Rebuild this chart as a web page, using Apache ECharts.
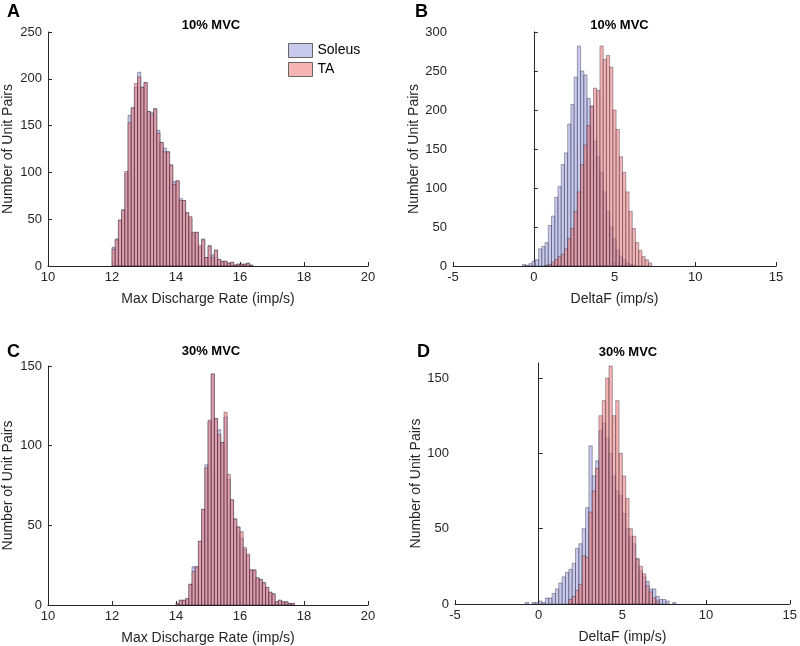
<!DOCTYPE html>
<html><head><meta charset="utf-8">
<script src="https://cdn.jsdelivr.net/npm/echarts@6/dist/echarts.min.js"></script>
<style>html,body{margin:0;padding:0;background:#fff}#c{width:800px;height:646px}</style>
</head><body><div id="c"></div>
<script>
// ---------- DATA ----------
const seriesNames = ['Soleus', 'TA'];
const panelTitles = ['10% MVC', '10% MVC', '30% MVC', '30% MVC'];
const panelLetters = ['A', 'B', 'C', 'D'];
const xLabels = ['Max Discharge Rate (imp/s)', 'DeltaF (imp/s)', 'Max Discharge Rate (imp/s)', 'DeltaF (imp/s)'];
const yLabel = 'Number of Unit Pairs';

// Panel A: max discharge rate, 10% MVC (bin width 0.1 from 12.0)
const aBinStart = 12.0, aBinWidth = 0.1;
const aSoleus = [20, 29, 49, 60, 99, 161, 169, 191, 207, 191, 196, 165, 164, 168, 145, 132, 126, 122, 108, 90, 91, 72, 70, 57, 51, 35, 36, 20, 29, 9, 22, 12, 17, 7, 5, 5, 3, 4, 1, 2, 2, 2, 3, 1];
const aTA     = [18, 28, 49, 60, 101, 153, 169, 195, 202, 191, 196, 165, 162, 168, 142, 132, 122, 122, 108, 87, 91, 70, 70, 57, 53, 36, 36, 22, 28, 9, 21, 9, 17, 7, 5, 5, 3, 4, 1, 2, 2, 2, 3, 1];

// Panel B: DeltaF, 10% MVC (bin width 0.2 from -0.7)
const bBinStart = -0.7, bBinWidth = 0.2;
const bSoleus = [2, 1, 3, 6, 8, 22, 25, 30, 52, 64, 88, 102, 130, 145, 182, 207, 242, 282, 250, 245, 215, 205, 160, 140, 120, 95, 70, 50, 35, 20, 12, 8, 4, 2, 1, 0, 0, 0, 0, 0];
const bTA     = [0, 0, 0, 0, 0, 0, 0, 1, 2, 5, 8, 12, 15, 22, 35, 48, 70, 95, 130, 155, 180, 205, 228, 225, 282, 265, 270, 255, 200, 175, 140, 120, 95, 70, 48, 30, 20, 12, 8, 4];

// Panel C: max discharge rate, 30% MVC (bin width 0.1 from 14.0)
const cBinStart = 14.0, cBinWidth = 0.1;
const cSoleus = [1, 3, 3, 4, 13, 24, 24, 40, 60, 88, 115, 145, 117, 110, 102, 118, 79, 66, 54, 49, 42, 35, 31, 22, 22, 17, 16, 14, 11, 8, 7, 2, 3, 2, 2, 1, 1, 0];
const cTA     = [1, 3, 3, 4, 13, 21, 24, 40, 60, 86, 116, 145, 117, 107, 102, 121, 82, 66, 54, 49, 46, 36, 32, 22, 22, 17, 16, 14, 11, 8, 7, 2, 3, 2, 2, 1, 1, 0];

// Panel D: DeltaF, 30% MVC (bin width 0.2 from -0.8)
const dBinStart = -0.8, dBinWidth = 0.2;
const dSoleus = [1, 0, 1, 1, 2, 1, 4, 4, 7, 10, 14, 18, 21, 23, 27, 37, 40, 50, 64, 105, 85, 95, 115, 120, 110, 100, 85, 75, 72, 60, 50, 45, 40, 30, 22, 18, 15, 10, 10, 5, 3, 3, 2, 0, 1];
const dTA     = [0, 0, 0, 0, 0, 0, 0, 0, 0, 0, 0, 0, 0, 3, 5, 9, 13, 32, 31, 61, 75, 90, 125, 135, 150, 158, 125, 135, 100, 85, 70, 50, 45, 30, 25, 20, 12, 8, 4, 2, 0, 0, 0, 0, 0];

const xTicksA = {min: 10, max: 20, interval: 2};
const xTicksB = {min: -5, max: 15, interval: 5};
const yMax = [250, 300, 150, 160];
const yTickValues = [
  [0, 50, 100, 150, 200, 250],
  [0, 50, 100, 150, 200, 250, 300],
  [0, 50, 100, 150],
  [0, 50, 100, 150]
];

// ---------- STYLE / LAYOUT ----------
const fillColors = {Soleus: 'rgba(165,165,225,0.6)', TA: 'rgba(240,130,130,0.6)'};
const edge = 'rgba(20,20,40,0.6)';
const grids = [
  {left: 44, top: 32, width: 324, height: 234},
  {left: 453, top: 32, width: 323, height: 234},
  {left: 44, top: 366, width: 324, height: 239},
  {left: 455, top: 363, width: 336, height: 241}
];
const titleY = [22, 22, 348, 349];
const axisColor = '#262626';
const font = 'Liberation Sans, Arial, sans-serif';

function toBins(start, width, counts) {
  return counts.map((c, i) => [start + i * width, start + (i + 1) * width, c]);
}
function renderBar(name) {
  return function (params, api) {
    const c = api.value(2);
    if (!c) return null;
    const p0 = api.coord([api.value(0), c]);
    const p1 = api.coord([api.value(1), 0]);
    return {
      type: 'rect',
      shape: {x: p0[0], y: p0[1], width: p1[0] - p0[0], height: p1[1] - p0[1]},
      style: {fill: fillColors[name], stroke: edge, lineWidth: 0.6}
    };
  };
}
const panels = [
  [aBinStart, aBinWidth, aSoleus, aTA],
  [bBinStart, bBinWidth, bSoleus, bTA],
  [cBinStart, cBinWidth, cSoleus, cTA],
  [dBinStart, dBinWidth, dSoleus, dTA]
];
const series = [];
panels.forEach((p, k) => {
  [['Soleus', p[2]], ['TA', p[3]]].forEach(([nm, arr]) => {
    series.push({
      type: 'custom', name: nm, xAxisIndex: k, yAxisIndex: k,
      data: toBins(p[0], p[1], arr),
      encode: {x: [0, 1], y: 2},
      renderItem: renderBar(nm),
      itemStyle: {color: fillColors[nm], borderColor: edge},
      silent: true, animation: false, clip: false
    });
  });
});

const xAxes = grids.map((g, k) => {
  const t = (k % 2 === 0) ? xTicksA : xTicksB;
  return {
    type: 'value', gridIndex: k, min: t.min, max: t.max, interval: t.interval,
    name: xLabels[k], nameLocation: 'middle', nameGap: 26,
    nameTextStyle: {color: axisColor, fontSize: 14, fontFamily: font},
    axisLine: {show: true, onZero: false, lineStyle: {color: axisColor, width: 1}},
    axisTick: {show: true, inside: true, length: 4, lineStyle: {color: axisColor}},
    axisLabel: {color: axisColor, fontSize: 13, fontFamily: font, margin: 5},
    splitLine: {show: false}
  };
});
const yAxes = grids.map((g, k) => ({
  type: 'value', gridIndex: k, min: 0, max: yMax[k], interval: 50,
  name: yLabel, nameLocation: 'middle', nameGap: (k % 2 === 0) ? 33 : 30, nameRotate: 90,
  nameTextStyle: {color: axisColor, fontSize: 14, fontFamily: font},
  axisLine: {show: true, lineStyle: {color: axisColor, width: 1}},
  axisTick: {show: true, inside: true, length: 4, lineStyle: {color: axisColor}, customValues: yTickValues[k]},
  axisLabel: {color: axisColor, fontSize: 13, fontFamily: font, margin: 6, customValues: yTickValues[k]},
  splitLine: {show: false}
}));

const titles = [];
grids.forEach((g, k) => {
  titles.push({text: panelTitles[k], left: g.left + g.width / 2, top: titleY[k] - 8, textAlign: 'center',
    textStyle: {fontSize: 13, fontWeight: 'bold', color: '#000', fontFamily: font}});
});
const letterPos = [[2, -2], [410, -2], [2, 338], [412, 338]];
panelLetters.forEach((L, k) => {
  titles.push({text: L, left: letterPos[k][0], top: letterPos[k][1],
    textStyle: {fontSize: 18, fontWeight: 'bold', color: '#000', fontFamily: font}});
});

const chart = echarts.init(document.getElementById('c'), null, {renderer: 'canvas'});
chart.setOption({
  animation: false,
  backgroundColor: '#fff',
  title: titles,
  legend: {
    data: seriesNames.map(n => ({name: n, icon: 'rect'})), orient: 'vertical', left: 283, top: 38,
    itemWidth: 24, itemHeight: 14, itemGap: 4, selectedMode: false,
    textStyle: {fontSize: 14, color: '#000', fontFamily: font},
    itemStyle: {borderColor: '#666', borderWidth: 1}
  },
  grid: grids,
  xAxis: xAxes,
  yAxis: yAxes,
  series: series
});
</script></body></html>
